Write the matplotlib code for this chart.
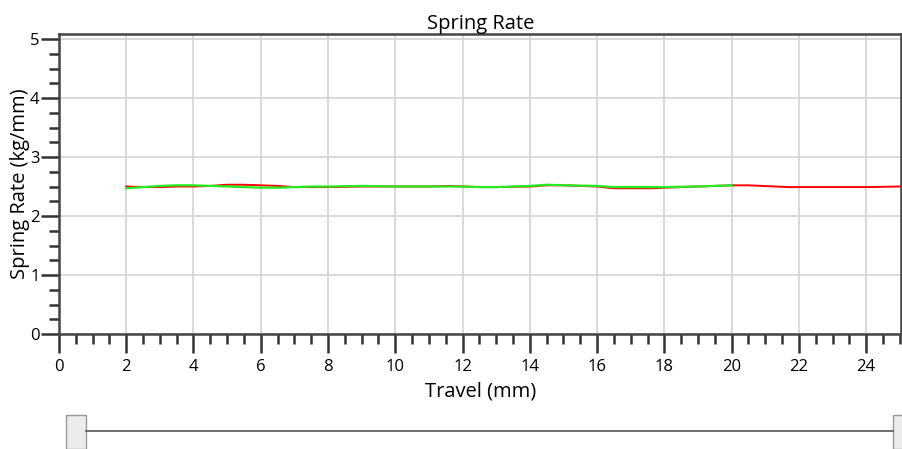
import matplotlib
matplotlib.use("Agg")
import matplotlib.pyplot as plt
from matplotlib.patches import Rectangle
from matplotlib.lines import Line2D
from matplotlib.ticker import MultipleLocator

plt.rcParams['font.family'] = ['Open Sans', 'DejaVu Sans']

# spring rate data (kg/mm) vs travel (mm)
travel_red = [2, 2.5, 3, 3.5, 4, 4.5, 5, 5.5, 6, 6.5, 7, 7.5, 8, 9, 10, 11, 11.6, 12.5, 13, 14, 14.5, 15, 16, 16.5,
              17.6, 18.5, 19.5, 20, 20.5, 21.7, 23, 24, 25]
rate_red = [2.50, 2.49, 2.49, 2.50, 2.50, 2.51, 2.53, 2.53, 2.52, 2.51, 2.49, 2.49, 2.49, 2.50, 2.50, 2.50, 2.51,
            2.49, 2.49, 2.50, 2.52, 2.52, 2.50, 2.47, 2.47, 2.49, 2.51, 2.52, 2.52, 2.49, 2.49, 2.49, 2.50]

travel_green = [2, 2.5, 3, 3.5, 4, 4.5, 5, 5.5, 6, 6.5, 7, 7.5, 8, 9, 10, 11, 12, 12.5, 13, 14, 14.5, 15, 16, 16.5,
                17, 18, 18.9, 19.5, 20]
rate_green = [2.47, 2.49, 2.51, 2.52, 2.52, 2.51, 2.50, 2.49, 2.48, 2.48, 2.49, 2.50, 2.50, 2.51, 2.50, 2.50, 2.50,
              2.49, 2.49, 2.51, 2.53, 2.52, 2.51, 2.49, 2.49, 2.49, 2.50, 2.51, 2.52]

fig = plt.figure(figsize=(9.03, 4.49), dpi=100)
ax = fig.add_axes([0.0653, 0.2561, 0.9330, 0.6682])

ax.plot(travel_red, rate_red, color='#ff0000', lw=1.4)
ax.plot(travel_green, rate_green, color='#22ee22', lw=1.6)

ax.set_xlim(0, 25.05)
ax.set_ylim(0, 5.085)
ax.xaxis.set_major_locator(MultipleLocator(2))
ax.xaxis.set_minor_locator(MultipleLocator(0.5))
ax.yaxis.set_major_locator(MultipleLocator(1))
ax.yaxis.set_minor_locator(MultipleLocator(0.25))
ax.grid(True, which='major', color='#d3d3d3', lw=1.2)
ax.set_axisbelow(True)
for s in ax.spines.values():
    s.set_color('#444444')
    s.set_linewidth(1.8)
ax.tick_params(which='major', length=14, width=1.8, color='#333333', labelsize=12, pad=4)
ax.tick_params(which='minor', length=7, width=1.8, color='#333333')
ax.tick_params(axis='y', length=13, pad=1)

ax.set_title('Spring Rate', fontsize=14.5, pad=2)
ax.set_xlabel('Travel (mm)', fontsize=14.5, labelpad=5)
ax.set_ylabel('Spring Rate (kg/mm)', fontsize=14.5, labelpad=0)

# range slider under the chart
fig.add_artist(Line2D([86 / 903, 893 / 903], [1 - 431 / 449, 1 - 431 / 449], color='#555555', lw=1.2))
fig.add_artist(Rectangle((66 / 903, 0), 20 / 903, 34 / 449, facecolor='#ececec', edgecolor='#999999', lw=1))
fig.add_artist(Rectangle((893 / 903, 0), 20 / 903, 34 / 449, facecolor='#ececec', edgecolor='#999999', lw=1))

fig.savefig('out.png', dpi=100)
